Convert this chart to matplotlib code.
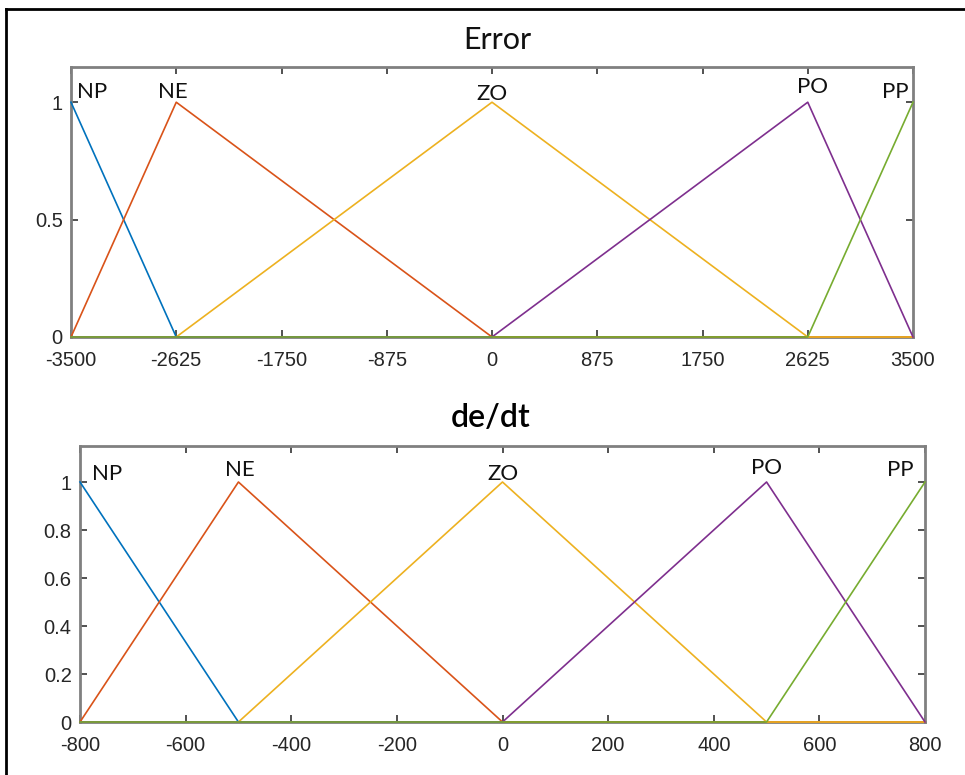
import matplotlib
matplotlib.use("Agg")
import matplotlib.pyplot as plt
from matplotlib import font_manager

# ---------------- data ----------------
mf_names = ["NP", "NE", "ZO", "PO", "PP"]
mf_colors = ["#0072BD", "#D95319", "#EDB120", "#7E2F8E", "#77AC30"]

# Error membership functions (breakpoints)
err_x = [
    [-3500, -2625, 3500],
    [-3500, -2625, 0, 3500],
    [-3500, -2625, 0, 2625, 3500],
    [-3500, 0, 2625, 3500],
    [-3500, 2625, 3500],
]
err_y = [
    [1, 0, 0],
    [0, 1, 0, 0],
    [0, 0, 1, 0, 0],
    [0, 0, 1, 0],
    [0, 0, 1],
]
err_xticks = [-3500, -2625, -1750, -875, 0, 875, 1750, 2625, 3500]
err_yticks = [0, 0.5, 1]
err_label_x = [-3325, -2652, 0, 2668, 3350]
err_label_y = [1.043, 1.043, 1.034, 1.064, 1.043]

# de/dt membership functions (breakpoints)
dedt_x = [
    [-800, -500, 800],
    [-800, -500, 0, 800],
    [-800, -500, 0, 500, 800],
    [-800, 0, 500, 800],
    [-800, 500, 800],
]
dedt_y = [
    [1, 0, 0],
    [0, 1, 0, 0],
    [0, 0, 1, 0, 0],
    [0, 0, 1, 0],
    [0, 0, 1],
]
dedt_xticks = [-800, -600, -400, -200, 0, 200, 400, 600, 800]
dedt_yticks = [0, 0.2, 0.4, 0.6, 0.8, 1]
dedt_label_x = [-749, -497, 0, 499, 753]
dedt_label_y = [1.033, 1.05, 1.033, 1.06, 1.05]

# ---------------- fonts ----------------
avail = {f.name for f in font_manager.fontManager.ttflist}
tick_font = "Liberation Sans Narrow" if "Liberation Sans Narrow" in avail else "Liberation Sans"
label_font = "Lato"

W, H = 965, 775
fig = plt.figure(figsize=(W / 100, H / 100), dpi=100)

def px_axes(l, t, r, b):
    return fig.add_axes([l / W, 1 - b / H, (r - l) / W, (b - t) / H])

axc = "#808080"

def draw(ax, xs, ys, xticks, yticks, lx, ly, title, title_kw, title_y):
    for x, y, c in zip(xs, ys, mf_colors):
        ax.plot(x, y, color=c, lw=1.2, clip_on=False, zorder=3,
                solid_joinstyle="round")
    ax.set_xlim(xticks[0], xticks[-1])
    ax.set_ylim(0, 1.15)
    ax.set_xticks(xticks)
    ax.set_xticklabels([str(v) for v in xticks])
    ax.set_yticks(yticks)
    ax.set_yticklabels([("%g" % v) for v in yticks])
    ax.tick_params(direction="in", length=5, width=1.2, color="#333333",
                   top=True, right=True, labelsize=14.5, labelcolor="#262626")
    ax.tick_params(axis="x", pad=10)
    ax.tick_params(axis="y", pad=6)
    for lab in ax.get_xticklabels() + ax.get_yticklabels():
        lab.set_family(tick_font)
    for s in ax.spines.values():
        s.set_color(axc)
        s.set_linewidth(2)
    for n, x, y in zip(mf_names, lx, ly):
        ax.text(x, y, n, ha="center", va="center", fontsize=16,
                family=label_font, color="#111111")
    fig.text(title[1], title_y, title[0], ha="center", va="center", **title_kw)

ax1 = px_axes(71, 67, 913, 337)
draw(ax1, err_x, err_y, err_xticks, err_yticks, err_label_x, err_label_y,
     ("Error", 497 / W), dict(fontsize=22, family=label_font, color="#111111"), 1 - 40 / H)

ax2 = px_axes(80, 446, 925, 722)
draw(ax2, dedt_x, dedt_y, dedt_xticks, dedt_yticks, dedt_label_x, dedt_label_y,
     ("de/dt", 491 / W), dict(fontsize=23, family=label_font, fontweight="semibold",
                              color="#000000"), 1 - 418 / H)

# screenshot frame (top and left edges)
fig.add_artist(plt.Line2D([6 / W, 1], [1 - 9 / H, 1 - 9 / H], color="black", lw=2,
                          transform=fig.transFigure))
fig.add_artist(plt.Line2D([6 / W, 6 / W], [1 - 9 / H, 0], color="black", lw=2,
                          transform=fig.transFigure))

fig.savefig("out.png", dpi=100)
